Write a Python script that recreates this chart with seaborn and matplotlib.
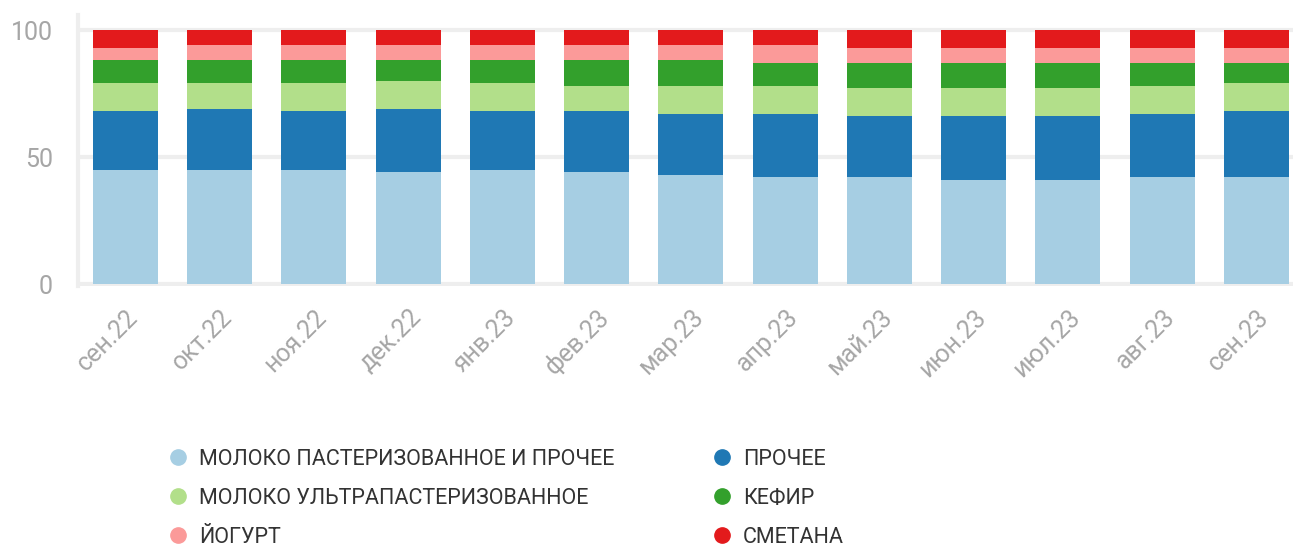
import pandas as pd
import matplotlib
matplotlib.use('Agg')
import matplotlib.pyplot as plt
from matplotlib.lines import Line2D
import matplotlib.transforms as mtransforms
import seaborn as sns

# Месяцы по оси X
months = ['сен.22', 'окт.22', 'ноя.22', 'дек.22', 'янв.23', 'фев.23', 'мар.23',
          'апр.23', 'май.23', 'июн.23', 'июл.23', 'авг.23', 'сен.23']

# Доли категорий (снизу вверх), %
milk_past = [45, 45, 45, 44, 45, 44, 43, 42, 42, 41, 41, 42, 42]
other = [23, 24, 23, 25, 23, 24, 24, 25, 24, 25, 25, 25, 26]
milk_uht = [11, 10, 11, 11, 11, 10, 11, 11, 11, 11, 11, 11, 11]
kefir = [9, 9, 9, 8, 9, 10, 10, 9, 10, 10, 10, 9, 8]
yogurt = [5, 6, 6, 6, 6, 6, 6, 7, 6, 6, 6, 6, 6]
smetana = [7, 6, 6, 6, 6, 6, 6, 6, 7, 7, 7, 7, 7]

series_names = ['МОЛОКО ПАСТЕРИЗОВАННОЕ И ПРОЧЕЕ', 'ПРОЧЕЕ', 'МОЛОКО УЛЬТРАПАСТЕРИЗОВАННОЕ',
                'КЕФИР', 'ЙОГУРТ', 'СМЕТАНА']
series_values = [milk_past, other, milk_uht, kefir, yogurt, smetana]
colors = sns.color_palette('Paired', 6)

sns.set_theme(style='white')
plt.rcParams['font.family'] = ['Roboto', 'DejaVu Sans']

fig = plt.figure(figsize=(12.93, 5.49), dpi=100)
ax = fig.add_axes([0.0603, 0.4794, 0.9397, 0.4937])

# Накопленные суммы — рисуем сверху вниз, чтобы нижние слои перекрывали верхние
df = pd.DataFrame(dict(zip(series_names, series_values)), index=months)
cum = df.cumsum(axis=1)
for name, color in reversed(list(zip(series_names, colors))):
    sns.barplot(x=cum.index, y=cum[name].values, color=color, saturation=1,
                width=0.69, errorbar=None, ax=ax, zorder=2, linewidth=0)

ax.set_xlim(-0.504, 12.39)
ax.set_ylim(-0.7, 106)
ax.set_yticks([0, 50, 100])
ax.yaxis.grid(True, color='#eeeeee', linewidth=3)
ax.set_axisbelow(True)
for side in ['top', 'right', 'bottom']:
    ax.spines[side].set_visible(False)
ax.spines['left'].set_color('#eeeeee')
ax.spines['left'].set_linewidth(3)
ax.set_xlabel('')
ax.set_ylabel('')

ax.tick_params(axis='y', length=0, pad=18, labelsize=18, labelcolor='#a6a6a6')
ax.tick_params(axis='x', length=0, pad=20, labelsize=18, labelcolor='#a6a6a6')
offset = mtransforms.ScaledTranslation(9 / 100, 0, fig.dpi_scale_trans)
for lbl in ax.get_xticklabels():
    lbl.set_rotation(45)
    lbl.set_ha('right')
    lbl.set_va('center')
    lbl.set_rotation_mode('anchor')
    lbl.set_transform(lbl.get_transform() + offset)

# Легенда в две колонки (порядок по строкам)
handles = [Line2D([], [], marker='o', linestyle='', markersize=11, color=c) for c in colors]
order = [0, 2, 4, 1, 3, 5]
fig.legend([handles[i] for i in order], [series_names[i] for i in order],
           ncol=2, loc='upper left', bbox_to_anchor=(167 / 1293, 1 - 449 / 549),
           frameon=False, fontsize=15.5, labelcolor='#333333', handlelength=1,
           handletextpad=0.5, columnspacing=4.47, labelspacing=0.83,
           borderpad=0, borderaxespad=0)

fig.savefig('out.png', dpi=100)
